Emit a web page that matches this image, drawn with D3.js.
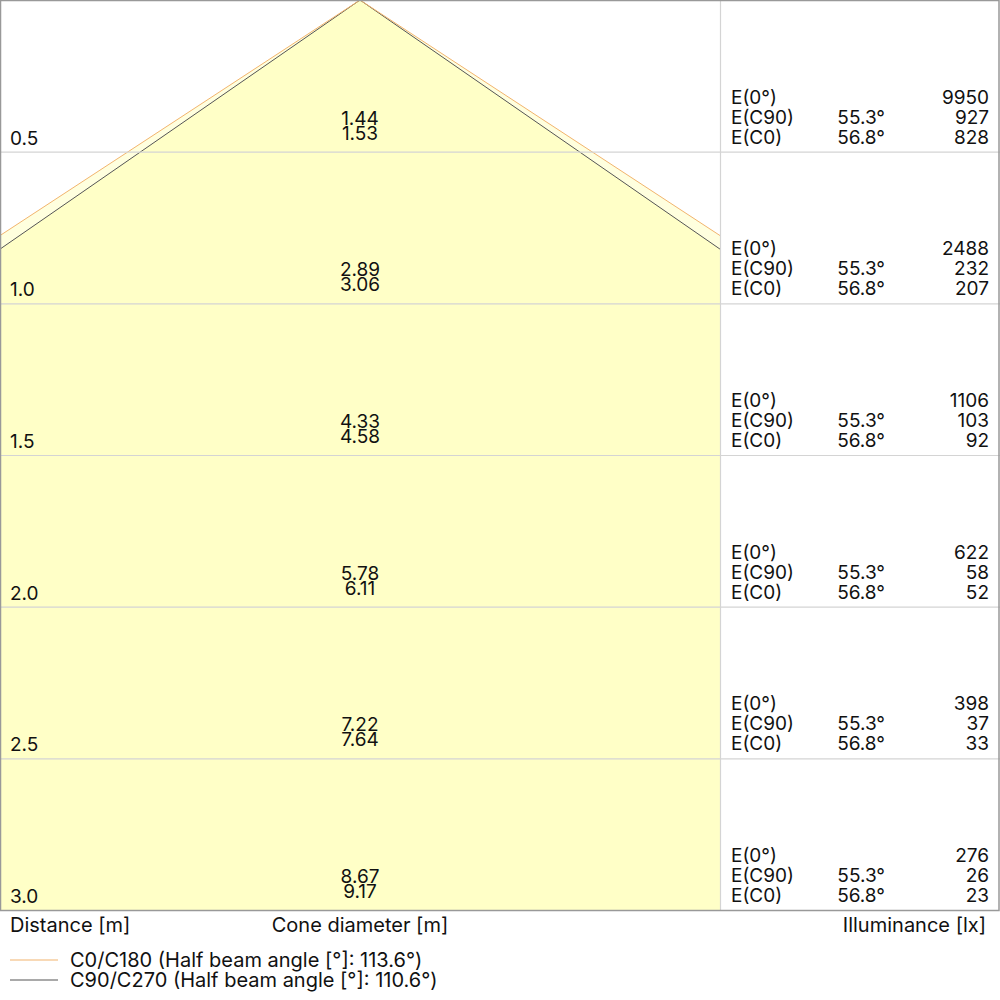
<!DOCTYPE html>
<html>
<head>
<meta charset="utf-8">
<script src="https://cdn.jsdelivr.net/npm/d3@7"></script>
<style>
  body { margin: 0; background: #fff; }
  svg { font-family: Inter, "Noto Sans", sans-serif; }
</style>
</head>
<body>
<div id="chart"></div>
<script>
// values
var distances = [0.5, 1.0, 1.5, 2.0, 2.5, 3.0];
var diamC90 = [1.44, 2.89, 4.33, 5.78, 7.22, 8.67];
var diamC0 = [1.53, 3.06, 4.58, 6.11, 7.64, 9.17];
var eCentre = [9950, 2488, 1106, 622, 398, 276];
var eC90 = [927, 232, 103, 58, 37, 26];
var eC0 = [828, 207, 92, 52, 33, 23];
var angleC90 = "55.3°",
    angleC0 = "56.8°";
var legendLabels = ["C0/C180 (Half beam angle [°]: 113.6°)", "C90/C270 (Half beam angle [°]: 110.6°)"];
var legendColors = ["#f2b46e", "#555555"];

var W = 1000, H = 1000,
    coneW = 720,
    plotH = 910,
    fs = 19;

var svg = d3.select("#chart").append("svg")
    .attr("width", W)
    .attr("height", H);

var y = d3.scaleLinear().domain([0, 3]).range([0, plotH]);
var half = 360 / (plotH / 3);
var x = d3.scaleLinear().domain([-half, half]).range([0, coneW]);

svg.append("clipPath").attr("id", "coneClip")
  .append("rect").attr("x", 0).attr("y", 0).attr("width", coneW).attr("height", plotH);

// cones, each one from its diameter at the last distance
var last = distances.length - 1;
var cones = [
  { d: diamC90[last] / 2, color: legendColors[1] },
  { d: diamC0[last] / 2, color: legendColors[0] }
];
var cg = svg.append("g").attr("clip-path", "url(#coneClip)");
cones.forEach(function(c) {
  var pts = [[-c.d, distances[last]], [0, 0], [c.d, distances[last]]];
  cg.append("path")
    .attr("d", d3.line().x(function(p) { return x(p[0]); }).y(function(p) { return y(p[1]); })(pts) + "Z")
    .attr("fill", "#ffff99")
    .attr("fill-opacity", 0.32);
});
cones.forEach(function(c) {
  var pts = [[-c.d, distances[last]], [0, 0], [c.d, distances[last]]];
  cg.append("path")
    .attr("d", d3.line().x(function(p) { return x(p[0]); }).y(function(p) { return y(p[1]); })(pts))
    .attr("fill", "none")
    .attr("stroke", c.color)
    .attr("stroke-width", 1);
});

// grid lines
svg.selectAll("line.grid")
  .data(distances.slice(0, last))
  .enter().append("line")
  .attr("class", "grid")
  .attr("x1", 0).attr("x2", W)
  .attr("y1", function(d) { return y(d) + 0.5; })
  .attr("y2", function(d) { return y(d) + 0.5; })
  .attr("stroke", "#d4d4d4")
  .attr("stroke-width", 1.2);

svg.append("line")
  .attr("x1", coneW + 0.5).attr("x2", coneW + 0.5)
  .attr("y1", 0).attr("y2", plotH)
  .attr("stroke", "#d4d4d4").attr("stroke-width", 1.2);

svg.append("rect")
  .attr("x", 0.5).attr("y", 0.5)
  .attr("width", W - 1.5).attr("height", plotH)
  .attr("fill", "none")
  .attr("stroke", "#999")
  .attr("stroke-width", 1.5);

// row texts
var rows = svg.selectAll("g.row")
  .data(distances)
  .enter().append("g")
  .attr("class", "row")
  .attr("transform", function(d) { return "translate(0," + y(d) + ")"; });

function txt(sel, xx, yy, anchor, f, size) {
  sel.append("text")
    .attr("x", xx).attr("y", yy)
    .attr("text-anchor", anchor)
    .attr("font-size", size || fs)
    .attr("fill", "#111")
    .text(f);
}

txt(rows, 10, -7, "start", function(d) { return d.toFixed(1); });
txt(rows, x(0), -27, "middle", function(d, i) { return diamC90[i].toFixed(2); });
txt(rows, x(0), -12, "middle", function(d, i) { return diamC0[i].toFixed(2); });

txt(rows, 731, -48, "start", "E(0°)");
txt(rows, 731, -28, "start", "E(C90)");
txt(rows, 731, -8, "start", "E(C0)");
txt(rows, 885, -28, "end", angleC90);
txt(rows, 885, -8, "end", angleC0);
txt(rows, 989, -48, "end", function(d, i) { return eCentre[i]; });
txt(rows, 989, -28, "end", function(d, i) { return eC90[i]; });
txt(rows, 989, -8, "end", function(d, i) { return eC0[i]; });

// axis captions
var cap = svg.append("g");
txt(cap, 10, 932, "start", "Distance [m]", 20);
txt(cap, x(0), 932, "middle", "Cone diameter [m]", 20);
txt(cap, 986, 932, "end", "Illuminance [lx]", 20);

// legend
var lg = svg.selectAll("g.legend")
  .data(legendLabels)
  .enter().append("g")
  .attr("class", "legend")
  .attr("transform", function(d, i) { return "translate(0," + (960 + i * 20) + ")"; });
lg.append("line")
  .attr("x1", 10).attr("x2", 58)
  .attr("y1", 0).attr("y2", 0)
  .attr("stroke", function(d, i) { return legendColors[i]; })
  .attr("stroke-width", 1.2);
txt(lg, 70, 7, "start", function(d) { return d; }, 20);
</script>
</body>
</html>
